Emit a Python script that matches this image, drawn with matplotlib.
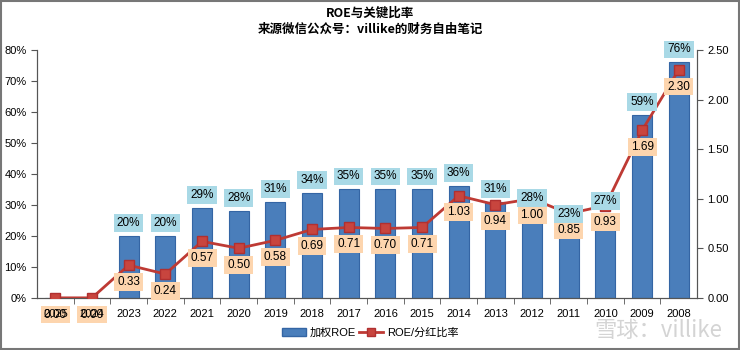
import matplotlib
matplotlib.use("Agg")
import matplotlib.pyplot as plt
from matplotlib.patches import Rectangle, Patch
from matplotlib.lines import Line2D
from matplotlib.ticker import FuncFormatter, MultipleLocator

plt.rcParams['font.family'] = ['Liberation Sans', 'Noto Sans CJK SC', 'DejaVu Sans']

years = ['2025', '2024', '2023', '2022', '2021', '2020', '2019', '2018', '2017',
         '2016', '2015', '2014', '2013', '2012', '2011', '2010', '2009', '2008']
roe = [0, 0, 20, 20, 29, 28, 31, 34, 35, 35, 35, 36, 31, 28, 23, 27, 59, 76]
ratio = [0.00, 0.00, 0.33, 0.24, 0.57, 0.50, 0.58, 0.69, 0.71, 0.70, 0.71,
         1.03, 0.94, 1.00, 0.85, 0.93, 1.69, 2.30]

title = 'ROE与关键比率\n来源微信公众号：villike的财务自由笔记'
bar_name = '加权ROE'
line_name = 'ROE/分红比率'

bar_color = '#4a7ebb'
bar_edge = '#3465a4'
line_color = '#be3a34'
roe_box = '#a9d9e6'
ratio_box = '#fdd5ae'

fig = plt.figure(figsize=(7.4, 3.5), dpi=100)
ax = fig.add_axes([0.050, 0.149, 0.892, 0.708])
ax2 = ax.twinx()
x = list(range(len(years)))

ax.bar(x, roe, width=0.55, color=bar_color, edgecolor=bar_edge, linewidth=0.8, zorder=2)
ax.set_xlim(-0.5, len(years) - 0.5)
ax.set_ylim(0, 80)
ax.yaxis.set_major_locator(MultipleLocator(10))
ax.yaxis.set_major_formatter(FuncFormatter(lambda v, p: f'{v:.0f}%'))
ax.set_xticks(x)
ax.set_xticklabels([])
ax.set_xticks([i + 0.5 for i in x[:-1]], minor=True)
ax.tick_params(axis='x', which='major', length=0)
ax.tick_params(axis='x', which='minor', length=4, color='#555555')
ax.tick_params(axis='y', length=4, labelsize=8, color='#555555')

ax2.set_ylim(0, 2.5)
ax2.yaxis.set_major_locator(MultipleLocator(0.5))
ax2.yaxis.set_major_formatter(FuncFormatter(lambda v, p: f'{v:.2f}'))
ax2.tick_params(axis='y', length=4, labelsize=8, color='#555555')

for a in (ax, ax2):
    a.spines['top'].set_visible(False)
    for s in ('left', 'right', 'bottom'):
        a.spines[s].set_color('#555555')
        a.spines[s].set_linewidth(0.8)

ax2.plot(x, ratio, color=line_color, linewidth=2, marker='s', markersize=7,
         markerfacecolor='#c8453e', markeredgecolor='#b03030', zorder=3)

for i, v in enumerate(roe):
    if v > 0:
        ax2.annotate(f'{v}%', (i, v), xycoords=ax.transData, xytext=(0, 5),
                     textcoords='offset points', ha='center', va='bottom',
                     fontsize=8.5, zorder=6,
                     bbox=dict(boxstyle='square,pad=0.25', fc=roe_box, ec='none'))
for i, v in enumerate(ratio):
    ax2.annotate(f'{v:.2f}', (i, v), xytext=(0, -12), textcoords='offset points',
                 ha='center', va='center', fontsize=8.5, zorder=5, annotation_clip=False,
                 bbox=dict(boxstyle='square,pad=0.25', fc=ratio_box, ec='none'))

# year labels drawn on top so they show over the 0.00 boxes like the reference
for i, y in enumerate(years):
    ax2.annotate(y, (i, 0), xycoords=('data', 'axes fraction'), xytext=(0, -11.5),
                 textcoords='offset points', ha='center', va='center', fontsize=8,
                 zorder=7, annotation_clip=False)

ax.set_zorder(1)
ax2.set_zorder(2)
ax2.patch.set_visible(False)

fig.text(0.5, 0.94, title, ha='center', va='center', fontsize=9, fontweight='bold',
         linespacing=1.3, family=['Noto Sans CJK SC', 'DejaVu Sans'])

handles = [Patch(facecolor=bar_color, edgecolor=bar_edge),
           Line2D([], [], color=line_color, linewidth=2, marker='s', markersize=6,
                  markerfacecolor='#c8453e', markeredgecolor='#b03030')]
fig.legend(handles, [bar_name, line_name], loc='center', bbox_to_anchor=(0.5, 0.05),
           ncol=2, frameon=False, handlelength=2.2, columnspacing=0.3,
           handletextpad=0.3, prop={'family': ['Liberation Sans', 'Noto Sans CJK SC'], 'size': 8})

fig.text(0.89, 0.055, '雪球：villike', ha='center', va='center', fontsize=16,
         color='#d4d4d4', family=['Noto Sans CJK SC', 'DejaVu Sans'])

fig.patches.append(Rectangle((0.002, 0.003), 0.996, 0.994, transform=fig.transFigure,
                             fill=False, edgecolor='#777777', linewidth=1.5))

fig.savefig('out.png', dpi=100)
